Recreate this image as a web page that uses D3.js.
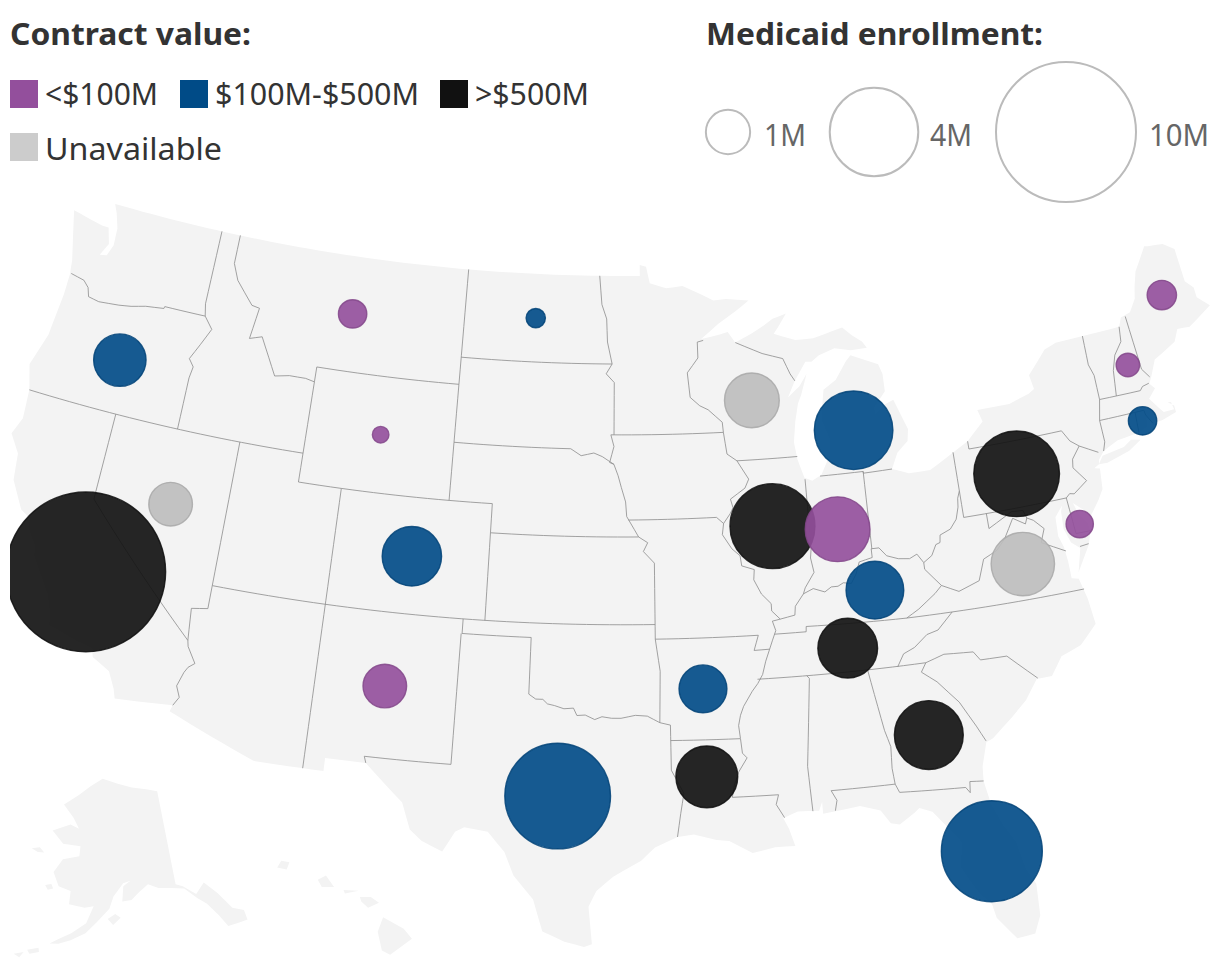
<!DOCTYPE html>
<html><head><meta charset="utf-8">
<script src="https://cdn.jsdelivr.net/npm/d3@7"></script>
<style>html,body{margin:0;padding:0;background:#fff}svg{display:block}text{font-family:"Noto Sans",Lato,sans-serif}</style>
</head><body><svg id="c" width="1220" height="970"></svg>
<script>
// ---------- data ----------
const categories = ["<$100M","$100M-$500M",">$500M","Unavailable"];
const categoryColors = ["#934f9c","#004b87","#111111","#cccccc"];
const sizeTicks = [1,4,10];
const sizeTickLabels = ["1M","4M","10M"];
const states = ["CA","OR","NV","MT","WY","ND","CO","NM","TX","AR","LA","WI","MI","IL","IN","KY","TN","GA","FL","PA","VA","DE","NH","ME","RI"];
const lons = [-119.55,-120.46,-116.59,-109.69,-107.55,-100.45,-105.5,-106.09,-98.66,-92.63,-92.6,-89.76,-85.02,-89.2,-86.26,-84.9,-86.35,-83.39,-81.55,-77.79,-78.28,-75.45,-71.56,-69.06,-71.56];
const lats = [36.52,43.83,39.44,47.0,43.0,47.46,38.98,34.47,31.1,34.76,31.74,44.54,43.2,40.19,39.89,37.68,35.81,32.53,28.26,40.87,37.8,38.75,43.66,45.67,41.68];
const enrollment = [13.0,1.4,0.97,0.41,0.14,0.19,1.8,0.97,5.7,1.17,1.95,1.53,3.15,3.68,2.14,1.7,1.82,2.42,5.2,3.75,2.05,0.38,0.28,0.44,0.41];
const contract = [">$500M","$100M-$500M","Unavailable","<$100M","<$100M","$100M-$500M","$100M-$500M","<$100M","$100M-$500M","$100M-$500M",">$500M","Unavailable","$100M-$500M",">$500M","<$100M","$100M-$500M",">$500M",">$500M","$100M-$500M",">$500M","Unavailable","<$100M","<$100M","<$100M","$100M-$500M"];

const mainland = [[-122.76,49],[-95.15,49],[-95.15,49.38],[-94.82,49.32],[-94.64,48.74],[-93.8,48.55],[-92.95,48.62],[-92,48.3],[-91.4,48.07],[-90.75,48.1],[-89.6,48],[-90.3,47.65],[-91.2,47.25],[-92.1,46.75],[-91.2,46.87],[-90.75,46.95],[-90.4,46.57],[-89.6,46.83],[-88.9,47.1],[-88.45,47.3],[-87.75,47.45],[-88.2,47],[-88.45,46.78],[-87.4,46.5],[-86.5,46.5],[-85,46.77],[-84.55,46.45],[-84.1,46.2],[-83.9,45.97],[-84.7,45.95],[-85.5,46.08],[-86.3,45.9],[-86.7,45.7],[-87,45.72],[-87.6,45.1],[-88,44.55],[-87.4,44.9],[-87,45.3],[-87.35,44.6],[-87.55,44.3],[-87.75,43.7],[-87.9,43],[-87.8,42.4],[-87.55,41.75],[-87.2,41.63],[-86.75,41.8],[-86.3,42.4],[-86.2,43],[-86.5,43.7],[-86.25,44.7],[-85.6,45],[-85,45.6],[-84.75,45.78],[-83.45,45.35],[-83.3,45],[-83.3,44.4],[-83.9,43.9],[-83.9,43.65],[-83.4,43.95],[-82.95,44.07],[-82.45,43],[-82.55,42.6],[-83.1,42.25],[-83.45,41.72],[-82.7,41.5],[-81.7,41.5],[-80.5,41.98],[-79.76,42.27],[-78.9,42.85],[-79.05,43.27],[-77.5,43.27],[-76.5,43.48],[-76.2,43.6],[-76.3,44.1],[-75.3,44.85],[-74.7,45],[-71.5,45.01],[-71.3,45.3],[-70.8,45.4],[-70.4,45.8],[-70.25,46.2],[-70,46.7],[-69.23,47.46],[-69.05,47.43],[-68.3,47.36],[-67.8,47.07],[-67.78,45.9],[-67.45,45.6],[-67.45,45.25],[-66.95,44.85],[-68.2,44.35],[-68.8,44.4],[-69.1,44],[-69.8,43.75],[-70.25,43.6],[-70.6,43.1],[-70.8,42.85],[-70.6,42.65],[-71,42.35],[-70.65,41.95],[-70.5,41.78],[-70,41.78],[-70.05,42.05],[-70.2,42.07],[-69.95,41.9],[-69.95,41.67],[-70.65,41.53],[-71.1,41.5],[-71.35,41.75],[-71.4,41.45],[-71.85,41.32],[-72.9,41.25],[-73.65,41],[-73.95,40.75],[-74,40.6],[-74.25,40.5],[-74,40.45],[-74.1,39.75],[-74.4,39.4],[-74.9,38.93],[-75.15,39.2],[-75.55,39.5],[-75.4,39.1],[-75.1,38.75],[-75.05,38.45],[-75.25,38],[-75.95,37.15],[-75.65,37.95],[-76,38.2],[-76.2,38.7],[-76.15,39.3],[-76.05,39.5],[-76.45,39.15],[-76.5,38.5],[-76.35,38.1],[-76.3,37.6],[-76.3,37],[-76,36.93],[-75.8,36.2],[-75.7,35.3],[-76.5,34.7],[-77.4,34.45],[-77.95,33.85],[-78.6,33.85],[-79.2,33.2],[-79.9,32.7],[-80.8,32.1],[-81.1,32],[-81.4,31.2],[-81.45,30.7],[-81.3,29.9],[-80.95,29.1],[-80.55,28.45],[-80.35,27.5],[-80.05,26.9],[-80.1,25.8],[-80.4,25.2],[-81.1,25.13],[-81.75,25.95],[-81.85,26.45],[-82.25,26.85],[-82.7,27.6],[-82.85,27.9],[-82.65,28.7],[-83,29.15],[-83.65,29.9],[-84.15,30.08],[-84.35,29.95],[-85,29.6],[-85.35,29.68],[-85.7,30.15],[-86.5,30.38],[-87.5,30.28],[-88,30.23],[-88,30.65],[-88.15,30.35],[-89,30.38],[-89.6,30.18],[-89.4,29.8],[-89.2,29.2],[-90,29.2],[-90.9,29.05],[-91.8,29.5],[-92.3,29.55],[-93.2,29.77],[-93.85,29.7],[-94.75,29.35],[-95.3,28.9],[-96.4,28.35],[-97.05,27.85],[-97.35,27.3],[-97.2,26],[-97.5,25.9],[-98.25,26.07],[-99.1,26.4],[-99.5,27.5],[-100.3,28.3],[-100.7,29.1],[-101.4,29.77],[-102.35,29.87],[-102.7,29.7],[-103.15,28.98],[-104,29.3],[-104.5,29.65],[-104.9,30.55],[-106.5,31.75],[-106.53,31.78],[-108.2,31.78],[-108.2,31.33],[-111.07,31.33],[-114.8,32.5],[-114.72,32.72],[-117.12,32.53],[-117.25,32.85],[-117.6,33.4],[-118.4,33.75],[-118.5,34.03],[-119.2,34.15],[-120.5,34.45],[-120.65,34.95],[-120.9,35.45],[-121.9,36.6],[-122,36.95],[-122.5,37.5],[-122.5,37.78],[-123,38],[-123.7,38.9],[-123.85,39.8],[-124.4,40.4],[-124.1,41],[-124.2,42],[-124.55,42.85],[-124.1,44],[-123.95,45.5],[-123.95,46.2],[-124.05,46.7],[-124.3,47.35],[-124.7,48.38],[-123.1,48.15],[-122.75,48.15],[-122.5,47.6],[-122.8,47.15],[-122.45,47.2],[-122.25,47.6],[-122.3,48.2],[-122.55,48.7],[-122.76,49]];
const islands = [
 [[-74,40.6],[-73.75,40.85],[-72.7,40.97],[-72.3,41.15],[-71.87,41.07],[-72.5,40.8],[-73.6,40.58],[-74,40.6]],
 [[-156.5,71.35],[-152,70.85],[-148,70.4],[-144,70.05],[-141,69.65],[-141,60.3],[-139.7,59.95],[-137.5,58.9],[-135.5,59.8],[-133.5,58.4],[-131.8,56.6],[-130,56],[-130,55],[-131.5,55],[-133.5,55],[-134.5,56.3],[-136,57.7],[-137.5,58.5],[-139.5,59.7],[-142,60],[-144.5,60.2],[-146.5,60.7],[-148.5,60],[-150,59.3],[-151.8,59.2],[-151.5,60.7],[-150,61.2],[-151.5,61],[-153.5,59.7],[-154.3,58.5],[-156.5,57.2],[-158.5,56],[-161,55.2],[-163,54.7],[-164.5,54.6],[-163,55.2],[-161,55.9],[-158.5,57],[-157.3,58.7],[-159,58.5],[-162,58.7],[-162,60],[-164.5,60.3],[-166,61.6],[-164.5,63],[-161,63.5],[-161,64.5],[-165,64.5],[-168,65.6],[-164,66.5],[-161.8,66.2],[-163.5,67.2],[-166.5,68.35],[-163,69.5],[-160,70.5],[-156.5,71.35]],
 [[-154.6,57.5],[-153.2,58],[-152.2,57.6],[-153.6,56.9],[-154.6,57.5]],
 [[-171.7,63.4],[-170,63.7],[-168.8,63.3],[-170.2,63.2],[-171.7,63.4]],
 [[-167.2,60.2],[-166,60.4],[-165.5,60],[-166.5,59.8],[-167.2,60.2]],
 [[-168,53.6],[-166.2,54],[-166,53.6],[-167.5,53.25],[-168,53.6]],
 [[-170,52.9],[-168.5,53.3],[-169,52.7],[-170,52.9]],
 [[-174.6,52.2],[-172.5,52.4],[-174,51.9],[-174.6,52.2]],
 [[-177.5,51.95],[-176,52.1],[-176.6,51.7],[-177.5,51.95]],
 [[-155.85,20.25],[-155.1,19.85],[-154.8,19.5],[-155.6,18.95],[-155.9,19.1],[-156.05,19.75],[-155.85,20.25]],
 [[-156.7,20.95],[-156.3,20.95],[-156,20.75],[-156.4,20.58],[-156.65,20.8],[-156.7,20.95]],
 [[-157.3,21.2],[-156.75,21.17],[-157.25,21.08],[-157.3,21.2]],
 [[-158.25,21.55],[-157.95,21.7],[-157.65,21.3],[-158.1,21.3],[-158.25,21.55]],
 [[-159.6,22.2],[-159.3,22.15],[-159.4,21.9],[-159.75,21.97],[-159.6,22.2]]
];
const stateBorders = [
 [[-117.03,49],[-117.04,46.42],[-116.92,46]],
 [[-123.9,46.25],[-123.2,46.15],[-122.9,45.95],[-122.75,45.65],[-122.2,45.58],[-121.2,45.65],[-120.6,45.72],[-119.9,45.85],[-119,45.93],[-118.98,46],[-116.92,46]],
 [[-116.92,46],[-116.46,45.6],[-116.85,45],[-117.22,44.45],[-116.95,44.2],[-117.03,43.8],[-117.03,42]],
 [[-116.05,49],[-116.05,48],[-115.7,47.45],[-114.75,46.7],[-114.35,46.65],[-114.55,45.56],[-113.95,45.7],[-113.45,45.05],[-113,44.45],[-112.3,44.55],[-111.5,44.55],[-111.05,44.48]],
 [[-104.05,45],[-111.05,45],[-111.05,41],[-104.05,41]],
 [[-124.2,42],[-111.05,42]],
 [[-120,42],[-120,39],[-114.63,35],[-114.57,34.8],[-114.15,34.27],[-114.4,34.1],[-114.53,33.9],[-114.72,33.4],[-114.52,33.03],[-114.72,32.72]],
 [[-114.63,35],[-114.75,36.1],[-114.05,36.2],[-114.05,37]],
 [[-114.05,42],[-114.05,37],[-94.62,37]],
 [[-109.05,41],[-109.05,31.33]],
 [[-104.05,41],[-102.05,41],[-102.05,37]],
 [[-102.05,40],[-95.31,40]],
 [[-104.05,49],[-104.05,41]],
 [[-104.05,43],[-98.5,43],[-98,42.77],[-97.4,42.87],[-97,42.75],[-96.45,42.49]],
 [[-104.05,45.94],[-96.56,45.94]],
 [[-97.23,49],[-97.1,48],[-96.85,47.5],[-96.8,46.7],[-96.56,45.94],[-96.85,45.6],[-96.45,45.3],[-96.45,43.5]],
 [[-96.6,43.5],[-91.22,43.5]],
 [[-96.6,43.5],[-96.45,43.1],[-96.65,42.55],[-96.45,42.49],[-96.25,42.1],[-96.1,41.7],[-95.9,41.2],[-95.85,40.7],[-95.5,40.25],[-95.31,40],[-94.9,39.8],[-95.1,39.5],[-94.61,39.1],[-94.62,36.5]],
 [[-95.77,40.58],[-91.73,40.6],[-91.42,40.38]],
 [[-94.62,36.5],[-90.15,36.5],[-90.37,35.99],[-89.7,36]],
 [[-94.62,36.5],[-94.43,35.4],[-94.48,33.64]],
 [[-103,37],[-103,36.5],[-100,36.5],[-100,34.56],[-99.7,34.4],[-99.4,34.4],[-99.2,34.25],[-98.9,34.2],[-98.5,34.1],[-98.1,34.13],[-97.95,33.88],[-97.6,33.9],[-97.2,33.75],[-96.9,33.85],[-96.5,33.8],[-96.1,33.8],[-95.5,33.9],[-95,33.87],[-94.48,33.64],[-94.04,33.55],[-94.04,32],[-93.55,31.2],[-93.7,30.5],[-93.85,29.7]],
 [[-103.04,36.5],[-103.06,32],[-106.62,32],[-106.53,31.78]],
 [[-94.04,33.02],[-91.17,33]],
 [[-92,46.7],[-92.3,46.65],[-92.3,46.1],[-92.85,45.6],[-92.75,44.75],[-92.3,44.45],[-91.9,44.3],[-91.25,43.85],[-91.22,43.5],[-91.1,42.75],[-90.65,42.5],[-90.15,41.85],[-90.35,41.55],[-91.05,41.2],[-90.95,40.9],[-91.1,40.7],[-91.42,40.38],[-91.5,40],[-91.1,39.5],[-90.75,39.25],[-90.7,38.9],[-90.15,38.75],[-90.2,38.4],[-89.9,37.9],[-89.5,37.55],[-89.5,37.3],[-89.15,37],[-89.5,36.95],[-89.38,36.62],[-89.55,36.3],[-89.7,36],[-89.9,35.6],[-90.07,35.15],[-90.3,34.85],[-90.55,34.6],[-90.95,34.1],[-91.1,33.8],[-91.2,33.45],[-91.15,33],[-91.1,32.5],[-90.92,32.33],[-91.3,31.85],[-91.5,31.4],[-91.6,31],[-89.73,31],[-89.85,30.67],[-89.55,30.2]],
 [[-88.2,35],[-88.1,34.9],[-88.47,31.9],[-88.4,30.35]],
 [[-87.5,30.3],[-87.4,30.65],[-87.6,31],[-85,31]],
 [[-85.6,34.98],[-85.18,32.87],[-85,32.3],[-85.05,31.55],[-85,31],[-84.86,30.7],[-82.2,30.57],[-82.05,30.37],[-82,30.75],[-81.45,30.7]],
 [[-90.3,35],[-83.11,35]],
 [[-84.32,34.98],[-84,35.4],[-83.5,35.57],[-82.9,35.95],[-82.4,36.05],[-81.68,36.59]],
 [[-83.11,35],[-83.35,34.7],[-82.75,34.3],[-81.95,33.5],[-81.4,32.6],[-81.1,32.05]],
 [[-83.11,35],[-82.3,35.2],[-81.05,35.13],[-80.8,34.82],[-79.67,34.8],[-78.55,33.87]],
 [[-89.45,36.5],[-88.07,36.5],[-88.05,36.68],[-83.67,36.6],[-81.68,36.59],[-75.87,36.55]],
 [[-83.67,36.6],[-83.1,36.85],[-82.3,37.3],[-81.97,37.54],[-82.6,38.17],[-82.6,38.4]],
 [[-89.15,37],[-88.5,37.1],[-88.45,37.4],[-88.05,37.8],[-87.6,37.95],[-87.1,37.8],[-86.8,37.95],[-86.5,37.95],[-86.25,38.05],[-85.9,38],[-85.65,38.3],[-85.45,38.7],[-84.85,38.8],[-84.85,39.1],[-84.5,39.1],[-84.2,38.8],[-83.7,38.65],[-83.2,38.6],[-82.85,38.72],[-82.6,38.4],[-82.2,38.6],[-81.95,38.95],[-81.75,39],[-81.7,39.25],[-81.2,39.4],[-80.87,39.7],[-80.7,40.1],[-80.65,40.4],[-80.52,40.64]],
 [[-84.82,39.1],[-84.8,41.76]],
 [[-86.82,41.76],[-84.8,41.76],[-84.8,41.7],[-83.45,41.72]],
 [[-87.53,41.7],[-87.53,39.35],[-87.6,39],[-87.5,38.5],[-87.95,38],[-88.05,37.8]],
 [[-90.65,42.5],[-87.8,42.5]],
 [[-90.4,46.57],[-89.1,46.13],[-88.1,45.9],[-87.8,45.35],[-87.6,45.1]],
 [[-80.52,41.98],[-80.52,39.72],[-75.79,39.72]],
 [[-79.76,42.27],[-79.76,42],[-75.35,42],[-75.07,41.6],[-74.7,41.36],[-73.9,41]],
 [[-74.7,41.36],[-75.13,40.97],[-75.2,40.68],[-74.72,40.15],[-75.4,39.8],[-75.6,39.84],[-75.79,39.72],[-75.7,38.46],[-75.05,38.45]],
 [[-75.65,38],[-75.25,38.03]],
 [[-79.48,39.72],[-79.48,39.2],[-78.35,39.63],[-77.83,39.6],[-77.72,39.32],[-77.45,39.2],[-77.05,38.85],[-77.3,38.4],[-76.3,37.95]],
 [[-81.97,37.54],[-81.25,37.25],[-80.3,37.5],[-79.95,38.2],[-79.3,38.42],[-78.87,38.76],[-78.35,39.4],[-77.83,39.13],[-77.72,39.32]],
 [[-73.35,45.01],[-73.4,44],[-73.25,43.6],[-73.27,42.75],[-73.5,42.05],[-73.5,41.3],[-73.65,41]],
 [[-71.5,45.01],[-71.6,44.5],[-72.05,44.1],[-72.3,43.6],[-72.46,42.73]],
 [[-71.08,45.3],[-70.98,43.4],[-70.7,43.07]],
 [[-73.27,42.75],[-71.3,42.7],[-71.15,42.82],[-70.82,42.87]],
 [[-73.5,42.05],[-71.38,42.02],[-71.35,41.85],[-71.12,41.5]],
 [[-71.8,42.02],[-71.86,41.32]]
];

// ---------- drawing ----------
const svg = d3.select("#c");
const defs = svg.append("defs");
defs.append("clipPath").attr("id","mapclip").append("rect").attr("x",10).attr("y",0).attr("width",1200).attr("height",970);

const projection = d3.geoAlbersUsa().scale(1660).translate([610,575]);
const path = d3.geoPath(projection);
// follow parallels and meridians between vertices rather than great circles
const densify = line => {
  const out=[];
  line.forEach((p,i)=>{
    if(i){const q=line[i-1],n=Math.ceil(Math.max(Math.abs(p[0]-q[0]),Math.abs(p[1]-q[1]))/0.5);
      for(let k=1;k<n;k++) out.push([q[0]+(p[0]-q[0])*k/n,q[1]+(p[1]-q[1])*k/n]);}
    out.push(p);
  });
  return out;
};
const color = d3.scaleOrdinal(categories,categoryColors);
const radius = d3.scaleSqrt().domain([0,10]).range([0,70]);

const map = svg.append("g").attr("clip-path","url(#mapclip)");
map.append("path")
  .datum({type:"MultiPolygon",coordinates:[[densify(mainland)]].concat(islands.map(r=>[r]))})
  .attr("d",path).attr("fill","#f3f3f3");
map.append("path")
  .datum({type:"MultiLineString",coordinates:stateBorders.map(densify)})
  .attr("d",path).attr("fill","none").attr("stroke","#8c8c8c").attr("stroke-width",0.8);

const bubbles = states.map((s,i)=>({state:s,lon:lons[i],lat:lats[i],value:enrollment[i],cat:contract[i]}));
map.selectAll("circle.b").data(bubbles).join("circle").attr("class","b")
  .attr("cx",d=>projection([d.lon,d.lat])[0])
  .attr("cy",d=>projection([d.lon,d.lat])[1])
  .attr("r",d=>radius(d.value))
  .attr("fill",d=>d.cat==="Unavailable"?"#bdbdbd":color(d.cat)).attr("fill-opacity",0.91)
  .attr("stroke",d=>d.cat==="Unavailable"?"#a8a8a8":d3.color(color(d.cat)).darker(0.35)).attr("stroke-width",1.4).attr("stroke-opacity",0.85);

// legends
const T = (x,y,str,len,o={}) => svg.append("text").attr("x",x).attr("y",y).text(str)
  .attr("textLength",len).attr("lengthAdjust","spacingAndGlyphs")
  .attr("font-size",o.size||31).attr("font-weight",o.weight||400).attr("fill",o.fill||"#333");
T(10,45,"Contract value:",241,{weight:700});
T(706,45,"Medicaid enrollment:",337,{weight:700});
const swatchX=[10,180,440,10], swatchY=[80,80,80,133], labelX=[45,215,475,45], labelY=[105,105,105,160], labelLen=[113,204,114,177];
categories.forEach((c,i)=>{
  svg.append("rect").attr("x",swatchX[i]).attr("y",swatchY[i]).attr("width",28).attr("height",28).attr("fill",categoryColors[i]);
  T(labelX[i],labelY[i],c,labelLen[i]);
});
const sizeCx=[728,874,1066], sizeLx=[764,930,1149], sizeLen=[42,42,60];
sizeTicks.forEach((v,i)=>{
  svg.append("circle").attr("cx",sizeCx[i]).attr("cy",132).attr("r",radius(v))
    .attr("fill","none").attr("stroke","#bbbbbb").attr("stroke-width",2);
  T(sizeLx[i],146,sizeTickLabels[i],sizeLen[i],{fill:"#666"});
});
</script></body></html>
